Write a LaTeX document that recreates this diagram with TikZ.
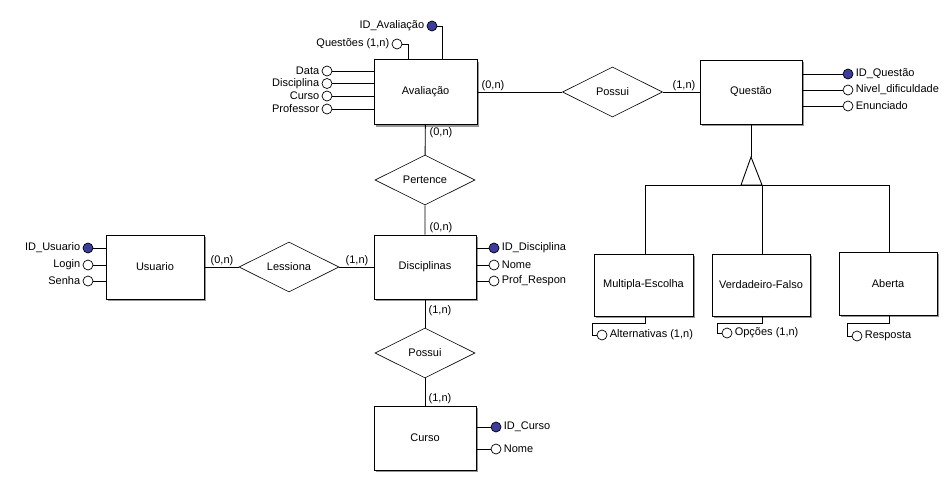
\documentclass[tikz,border=0pt]{standalone}
\usepackage{fontspec}
\setmainfont{Liberation Sans}
\usetikzlibrary{shapes.geometric,shadows}
\definecolor{keyblue}{RGB}{60,60,156}
\definecolor{shadowgray}{RGB}{150,150,150}
\begin{document}
\begin{tikzpicture}[x=1pt,y=-1pt,
  font=\fontsize{11}{13}\selectfont,
  line width=0.9pt,
  entity/.style={draw,fill=white,inner sep=0pt,
    general shadow={fill=shadowgray,shadow xshift=2pt,shadow yshift=-2pt}},
  rel/.style={draw,diamond,aspect=2,inner sep=0pt,minimum width=100pt,minimum height=50pt,line width=0.6pt},
  attr/.style={draw,circle,fill=white,minimum size=10pt,inner sep=0pt,line width=0.7pt},
  keyattr/.style={attr,fill=keyblue},
  lab/.style={inner sep=1pt},
  card/.style={inner sep=0pt},
  every label/.style={inner sep=1pt,font=\fontsize{11}{13}\selectfont},
  label distance=1pt]
\useasboundingbox (0,0) rectangle (949,477);

% entities
\node[entity,minimum width=103pt,minimum height=65pt] (aval) at (425.5,92) {Avaliação};
\node[entity,minimum width=102pt,minimum height=64pt] (quest) at (751,92) {Questão};
\node[entity,minimum width=98pt,minimum height=64pt] (usu) at (155,267) {Usuario};
\node[entity,minimum width=102pt,minimum height=64pt] (disc) at (425,267) {Disciplinas};
\node[entity,minimum width=102pt,minimum height=64pt] (curso) at (425,438) {Curso};
\node[entity,minimum width=99pt,minimum height=62pt] (mult) at (643.5,285) {Multipla-Escolha};
\node[entity,minimum width=98pt,minimum height=62pt] (verd) at (761,285) {Verdadeiro-Falso};
\node[entity,minimum width=98pt,minimum height=63pt] (aber) at (888,283.5) {Aberta};

% relationships
\node[rel] (possuiq) at (612.5,92) {Possui};
\node[rel] (pert) at (425,180) {Pertence};
\node[rel] (less) at (289,267) {Lessiona};
\node[rel] (possuic) at (425,353) {Possui};

% relationship lines
\draw (aval) -- (possuiq) -- (quest);
\draw (aval) -- (pert) -- (disc);
\draw (usu) -- (less) -- (disc);
\draw (disc) -- (possuic) -- (curso);

% cardinalities
\node[card] (c1) at (493,86) {(0,n)};
\node[card] (c2) at (684,86) {(1,n)};
\node[card] (c3) at (441,133) {(0,n)};
\node[card] (c4) at (441,228) {(0,n)};
\node[card] (c5) at (222,261) {(0,n)};
\node[card] (c6) at (357,261) {(1,n)};
\node[card] (c7) at (440,311) {(1,n)};
\node[card] (c8) at (440,399) {(1,n)};

% Avaliação attributes
\node[keyattr,label=left:ID\_Avaliação] (aid) at (432,26) {};
\node[attr,label=left:{Questões (1,n)}] (aqs) at (397,44) {};
\node[attr,label=left:Data] (adata) at (327,71) {};
\node[attr,label=left:Disciplina] (adisc) at (327,83.5) {};
\node[attr,label=left:Curso] (acurso) at (327,96) {};
\node[attr,label=left:Professor] (aprof) at (327,109) {};
\coordinate (aidk) at (442,26);
\coordinate (aqsk) at (408,44);
\draw (aid) -- (aidk) -- (aidk |- aval.north);
\draw (aqs) -- (aqsk) -- (aqsk |- aval.north);
\foreach \a in {adata,adisc,acurso,aprof}
  \draw (\a) -- (\a -| aval.west);

% Questão attributes
\node[keyattr,label=right:ID\_Questão] (qid) at (848,74) {};
\node[attr,label=right:Nivel\_dificuldade] (qniv) at (848,90) {};
\node[attr,label=right:Enunciado] (qenun) at (848,106) {};
\foreach \a in {qid,qniv,qenun}
  \draw (\a) -- (\a -| quest.east);

% Usuario attributes
\node[keyattr,label=left:ID\_Usuario] (uid) at (88,248) {};
\node[attr,label=left:Login] (ulog) at (88,265) {};
\node[attr,label=left:Senha] (usen) at (88,281) {};
\foreach \a in {uid,ulog,usen}
  \draw (\a) -- (\a -| usu.west);

% Disciplinas attributes
\node[keyattr,label=right:ID\_Disciplina] (did) at (494,248) {};
\node[attr,label=right:Nome] (dnome) at (494,265) {};
\node[attr,label=right:Prof\_Respon] (dprof) at (494,281) {};
\foreach \a in {did,dnome,dprof}
  \draw (\a) -- (\a -| disc.east);

% Curso attributes
\node[keyattr,label=right:ID\_Curso] (cid) at (496,427) {};
\node[attr,label=right:Nome] (cnome) at (496,449) {};
\foreach \a in {cid,cnome}
  \draw (\a) -- (\a -| curso.east);

% specialization of Questão
\coordinate (apex) at (751,157);
\coordinate (bl) at (741,185);
\coordinate (br) at (762,185);
\coordinate (hl) at (645,185);
\coordinate (hr) at (889,185);
\draw (quest) -- (apex);
\draw (apex) -- (bl) -- (br) -- cycle;
\draw (hl) -- (hr);
\draw (hl) -- (hl |- mult.north);
\draw (br) -- (br |- verd.north);
\draw (hr) -- (hr |- aber.north);

% attributes of the subtypes
\node[attr,label=right:{Alternativas (1,n)}] (malt) at (602,335) {};
\node[attr,label=right:{Opções (1,n)}] (vop) at (727,333) {};
\node[attr,label=right:Resposta] (ares) at (857,336) {};
\coordinate (m1) at (645,323);
\coordinate (m2) at (592,323);
\coordinate (v1) at (762,323);
\coordinate (v2) at (717,323);
\coordinate (r1) at (889,323);
\coordinate (r2) at (847,323);
\draw (m1 |- mult.south) -- (m1) -- (m2) -- (m2 |- malt) -- (malt);
\draw (v1 |- verd.south) -- (v1) -- (v2) -- (v2 |- vop) -- (vop);
\draw (r1 |- aber.south) -- (r1) -- (r2) -- (r2 |- ares) -- (ares);
\end{tikzpicture}
\end{document}
